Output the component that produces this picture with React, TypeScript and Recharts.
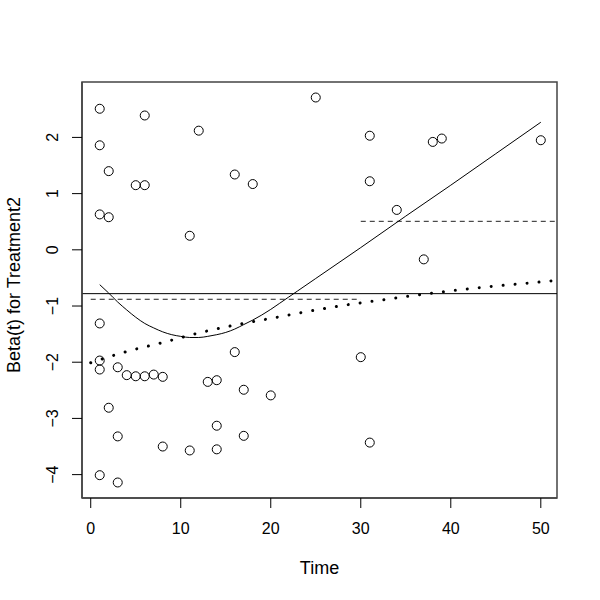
import React from 'react';
import {
  ComposedChart,
  XAxis,
  YAxis,
  Scatter,
  Line,
  ReferenceLine,
  ReferenceArea,
  Label,
} from 'recharts';

// scaled Schoenfeld residuals
const residTime = [
  1, 1, 1, 1, 1, 1, 1,
  2, 2, 2,
  3, 3, 3,
  4,
  5, 5,
  6, 6, 6,
  7,
  8, 8,
  11, 11,
  12,
  13,
  14, 14, 14,
  16, 16,
  17, 17,
  18,
  20,
  25,
  30,
  31, 31, 31,
  34,
  37,
  38,
  39,
  50,
];
const residBeta = [
  2.51, 1.86, 0.63, -1.31, -1.97, -2.13, -4.01,
  1.40, 0.58, -2.81,
  -2.09, -3.32, -4.14,
  -2.23,
  1.15, -2.25,
  2.39, 1.15, -2.25,
  -2.22,
  -2.26, -3.5,
  0.25, -3.57,
  2.12,
  -2.35,
  -2.32, -3.13, -3.55,
  1.34, -1.82,
  -2.49, -3.31,
  1.17,
  -2.59,
  2.71,
  -1.91,
  2.03, 1.22, -3.43,
  0.71,
  -0.17,
  1.92,
  1.98,
  1.95,
];

// smooth fit
const fitTime = [1, 2, 3, 4, 5, 6, 7, 8, 9, 10, 11, 12, 13, 14, 15, 16, 17, 18, 19, 20, 21, 22, 23, 25, 30, 35, 40, 45, 50];
const fitBeta = [
  -0.62, -0.77, -0.93, -1.07, -1.2, -1.31, -1.39, -1.46, -1.51, -1.54, -1.56, -1.56, -1.54, -1.51,
  -1.47, -1.41, -1.33, -1.25, -1.16, -1.06, -0.95, -0.84, -0.73, -0.51, 0.04, 0.6, 1.15, 1.71, 2.27,
];

// dotted trend
const trendTime = [0, 4, 8, 12, 16, 20, 24, 28, 32, 36, 40, 44, 48, 52];
const trendBeta = [-2.01, -1.81, -1.65, -1.48, -1.34, -1.22, -1.1, -0.99, -0.9, -0.81, -0.73, -0.66, -0.6, -0.54];

// step estimate (dashed)
const stepTime = [0, 30, 30, 52];
const stepBeta = [-0.88, -0.88, 0.507, 0.507];

const constBeta = -0.78;

const xTicks = [0, 10, 20, 30, 40, 50];
const yTicks = [-4, -3, -2, -1, 0, 1, 2];

const residData = residTime.map((t, i) => ({ t, b: residBeta[i] }));
const fitData = fitTime.map((t, i) => ({ t, b: fitBeta[i] }));
const trendData = trendTime.map((t, i) => ({ t, b: trendBeta[i] }));
const stepLeft = stepTime.slice(0, 2).map((t, i) => ({ t, b: stepBeta[i] }));
const stepRight = stepTime.slice(2).map((t, i) => ({ t, b: stepBeta[i + 2] }));

const FONT = '"Liberation Sans", Arial, Helvetica, sans-serif';
const xDomain = [-0.97, 51.8];
const yDomain = [-4.416, 2.986];

const fmt = (v: number) => String(v).replace('-', '\u2212');

const OpenCircle = (props: any) => {
  const { cx, cy } = props;
  return <circle cx={cx} cy={cy} r={4.5} fill="none" stroke="#000" strokeWidth={1} />;
};

const YTick = (props: any) => {
  const { x, y, payload } = props;
  return (
    <text
      x={x}
      y={y}
      dy="0.35em"
      transform={`rotate(-90 ${x} ${y})`}
      textAnchor="middle"
      fontSize={16}
      fontFamily={FONT}
      fill="#000"
    >
      {fmt(payload.value)}
    </text>
  );
};

const YTitle = (props: any) => {
  const vb = props.viewBox || { x: 0, y: 82, height: 416 };
  const x = vb.x + 19.5;
  const y = vb.y + vb.height / 2 - 5;
  return (
    <text
      x={x}
      y={y}
      transform={`rotate(-90 ${x} ${y})`}
      textAnchor="middle"
      fontSize={18}
      fontFamily={FONT}
      fill="#000"
    >
      Beta(t) for Treatment2
    </text>
  );
};

export default function App() {
  return (
    <div style={{ position: 'absolute', left: 0, top: 0, width: 600, height: 600, background: '#fff' }}>
      <ComposedChart width={600} height={600} margin={{ top: 82, right: 43, bottom: 0, left: 0 }}>
        <XAxis
          dataKey="t"
          type="number"
          domain={xDomain}
          ticks={xTicks}
          allowDataOverflow
          height={102}
          tickSize={10}
          tickMargin={15}
          tickLine={{ stroke: '#000' }}
          axisLine={{ stroke: '#444', strokeWidth: 1.5 }}
          tick={{ fontSize: 16, fontFamily: FONT, fill: '#000' }}
        >
          <Label
            value="Time"
            position="insideBottom"
            offset={26}
            style={{ fontSize: 18, fontFamily: FONT, fill: '#000' }}
          />
        </XAxis>
        <YAxis
          type="number"
          domain={yDomain}
          ticks={yTicks}
          allowDataOverflow
          width={82}
          tickSize={10}
          tickMargin={20}
          tickLine={{ stroke: '#000' }}
          axisLine={{ stroke: '#444', strokeWidth: 1.5 }}
          tick={<YTick />}
        >
          <Label content={<YTitle />} />
        </YAxis>
        {/* plot frame */}
        <ReferenceArea
          x1={xDomain[0]}
          x2={xDomain[1]}
          y1={yDomain[0]}
          y2={yDomain[1]}
          fill="none"
          fillOpacity={0}
          stroke="#444"
          strokeWidth={1.5}
          ifOverflow="visible"
        />
        <ReferenceLine y={constBeta} stroke="#000" strokeWidth={1} ifOverflow="hidden" />
        <Line
          data={stepLeft}
          dataKey="b"
          type="linear"
          stroke="#222"
          strokeWidth={1}
          strokeDasharray="5 4"
          dot={false}
          activeDot={false}
          isAnimationActive={false}
        />
        <Line
          data={stepRight}
          dataKey="b"
          type="linear"
          stroke="#222"
          strokeWidth={1}
          strokeDasharray="5 4"
          dot={false}
          activeDot={false}
          isAnimationActive={false}
        />
        <Line
          data={trendData}
          dataKey="b"
          type="monotone"
          stroke="#000"
          strokeWidth={3}
          strokeLinecap="round"
          strokeDasharray="0.01 12"
          dot={false}
          activeDot={false}
          isAnimationActive={false}
        />
        <Line
          data={fitData}
          dataKey="b"
          type="monotone"
          stroke="#000"
          strokeWidth={1}
          dot={false}
          activeDot={false}
          isAnimationActive={false}
        />
        <Scatter data={residData} dataKey="b" shape={<OpenCircle />} isAnimationActive={false} />
      </ComposedChart>
    </div>
  );
}
